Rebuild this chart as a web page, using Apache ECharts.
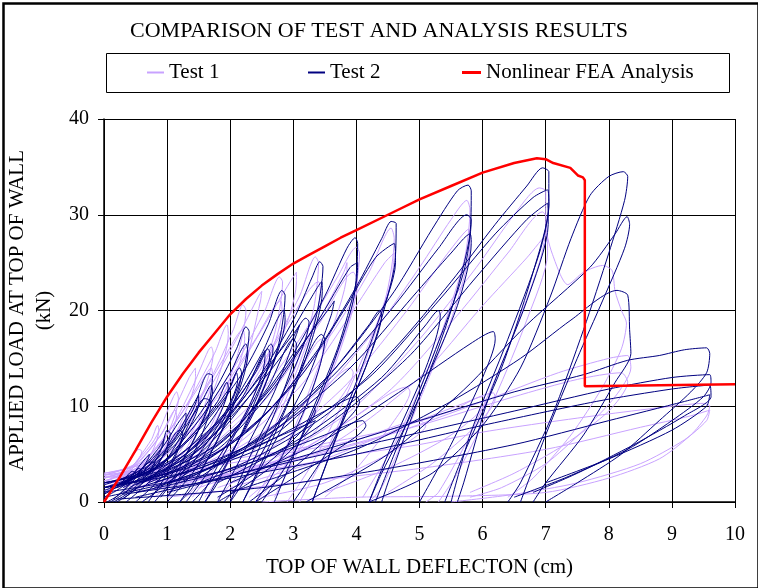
<!DOCTYPE html>
<html>
<head>
<meta charset="utf-8">
<script src="https://cdn.jsdelivr.net/npm/echarts@6/dist/echarts.min.js"></script>
<style>
  html, body {margin: 0; padding: 0; background: #ffffff;}
  #chart {width: 758px; height: 588px;}
</style>
</head>
<body>
<div id="chart"></div>
<script>
// axis ticks
const xTicks = [0, 1, 2, 3, 4, 5, 6, 7, 8, 9, 10];
const yTicks = [0, 10, 20, 30, 40];

// FEA envelope (cm, kN)
const feaCurve = [
    [0, 0], [0.25, 2.6], [0.5, 5.4], [0.75, 8.3], [1.0, 11.0], [1.25, 13.4], [1.5, 15.6], [1.75, 17.6],
    [2.0, 19.6], [2.25, 21.2], [2.5, 22.6], [2.75, 23.8], [3.0, 24.9], [3.25, 25.8], [3.5, 26.7], [3.75, 27.6],
    [4.0, 28.4], [4.5, 30.0], [5.0, 31.6], [5.5, 33.0], [6.0, 34.4], [6.5, 35.4], [6.86, 35.9], [7.0, 35.8],
    [7.12, 35.4], [7.39, 34.9], [7.51, 34.1], [7.59, 33.9], [7.62, 33.6], [7.62, 12.1], [10, 12.3]
];

// Test 1 cycles (cm, kN)
const test1Loops = [
    [[0, 2.5], [0.3, 3.2], [0.55, 5.5], [0.6, 5.3], [0.45, 3.5], [0.2, 2.2], [0, 1.8]],
    [[0, 2.2], [0.35, 3], [0.75, 6.5], [0.85, 8], [0.87, 7.5], [0.7, 4.5], [0.35, 2.5], [0, 1.5]],
    [[0, 2], [0.4, 3.5], [0.8, 6.5], [1.1, 11], [1.15, 11.5], [1.18, 10.8], [1.0, 7], [0.6, 3], [0.2, 1.5], [0, 1.2]],
    [[0, 2.8], [0.5, 4], [0.9, 7], [1.13, 9.6], [1.15, 9], [0.9, 5], [0.5, 2.5], [0.1, 1.5]],
    [[0, 2.6], [0.45, 3.5], [0.95, 7.5], [1.35, 13], [1.45, 14], [1.45, 13], [1.2, 8], [0.8, 3.5], [0.3, 1.5]],
    [[0, 2.2], [0.5, 3.5], [1.0, 7], [1.4, 12], [1.65, 15.8], [1.7, 16.2], [1.73, 15.5], [1.55, 11], [1.2, 6], [0.7, 2.5], [0.3, 1]],
    [[0, 3], [0.6, 4], [1.1, 8], [1.5, 12], [1.7, 14], [1.72, 13], [1.45, 8], [1.0, 3.5], [0.5, 1.2]],
    [[0, 2.8], [0.6, 4.2], [1.2, 9], [1.75, 15.5], [1.95, 18.5], [1.97, 17.5], [1.7, 11], [1.2, 4.5], [0.6, 1.5]],
    [[0, 2.5], [0.6, 3.8], [1.2, 7.8], [1.7, 13], [2.05, 18], [2.2, 20.6], [2.25, 20], [2.1, 15], [1.7, 8], [1.2, 3], [0.8, 0.5]],
    [[0.1, 2], [0.8, 4.5], [1.4, 9.5], [1.9, 15], [2.2, 18], [2.23, 17], [1.95, 11], [1.45, 4.5], [1.0, 0.8]],
    [[0, 3], [0.8, 4.5], [1.5, 10], [2.1, 17], [2.45, 21.5], [2.5, 22], [2.48, 21], [2.2, 13.5], [1.6, 5], [1.1, 1]],
    [[0, 2.8], [0.8, 4], [1.5, 8.5], [2.1, 14.5], [2.55, 20], [2.78, 23.5], [2.83, 23], [2.7, 17.5], [2.3, 10], [1.7, 3.5], [1.3, 0.5]],
    [[0.2, 2.2], [1.0, 5], [1.8, 11], [2.4, 17], [2.8, 21], [2.82, 20], [2.5, 13], [1.9, 5], [1.4, 0.5]],
    [[0.1, 2.5], [1.0, 4.5], [1.8, 10.5], [2.5, 18], [2.95, 23], [3.05, 24], [3.05, 23], [2.7, 15], [2.1, 5.5], [1.6, 0.5]],
    [[0, 2.5], [1.0, 4], [1.9, 9], [2.6, 15.5], [3.1, 21.5], [3.35, 25.6], [3.4, 25], [3.3, 19.5], [2.85, 11], [2.2, 3.5], [1.8, 0.3]],
    [[0.4, 2.2], [1.3, 5], [2.2, 11], [2.9, 18.5], [3.4, 23], [3.43, 22], [3.1, 14.5], [2.5, 5], [2.0, 0.3]],
    [[0.2, 2.5], [1.5, 5], [2.6, 11.5], [3.4, 19], [3.8, 24], [3.85, 25], [3.85, 24], [3.5, 16], [2.9, 6], [2.4, 0.5]],
    [[0.2, 2], [1.3, 4.5], [2.3, 10], [3.1, 17], [3.7, 23.5], [4.0, 26.6], [4.05, 26], [3.9, 19.5], [3.4, 10.5], [2.8, 3], [2.4, 0]],
    [[0.5, 1.8], [1.6, 5], [2.6, 11], [3.4, 18.5], [3.95, 24], [4.02, 23], [3.75, 16], [3.2, 7], [2.7, 0.5]],
    [[0.6, 2], [1.8, 4.5], [2.8, 8.5], [3.5, 12], [3.9, 14], [3.95, 13.5], [3.6, 9.5], [2.9, 4], [2.3, 0.5]],
    [[0.3, 1.5], [1.6, 4.5], [2.7, 10], [3.6, 17.5], [4.2, 24], [4.55, 28.6], [4.6, 27.5], [4.45, 21], [3.9, 12], [3.3, 4], [2.9, 0]],
    [[0.8, 1.5], [2.0, 5.5], [3.1, 12], [3.9, 19.5], [4.45, 25], [4.6, 26], [4.55, 23], [4.1, 14], [3.5, 5], [3.1, 0]],
    [[1.0, 2], [2.2, 7], [3.0, 12.5], [3.45, 17], [3.48, 16.5], [3.15, 9], [2.6, 2], [2.4, 0]],
    [[0.3, 2.5], [1.5, 3.5], [2.8, 5], [4.0, 6.5], [5.0, 8.5], [5.1, 8.0], [4.5, 5], [3.5, 2], [2.5, 0.5]],
    [[0.5, 1.5], [2.0, 4.5], [3.3, 10.5], [4.3, 18], [5.0, 24.5], [5.5, 29.5], [5.75, 31.5], [5.8, 30.5], [5.7, 25], [5.2, 15], [4.6, 6], [4.1, 0.5]],
    [[1.0, 1.2], [2.5, 5], [3.8, 12], [4.8, 20], [5.45, 26], [5.78, 28.5], [5.8, 27], [5.5, 19], [4.9, 9], [4.4, 1.5], [4.2, 0]],
    [[1.5, 1.5], [3.0, 5], [4.0, 9], [4.8, 12], [4.85, 11.5], [4.6, 8.5], [4.0, 3.5], [3.5, 0.5]],
    [[0, 2.8], [1.5, 4], [3.0, 5.5], [4.5, 7.5], [5.5, 9.5], [6.0, 11], [6.05, 10.5], [5.5, 7], [4.5, 3.5], [3.5, 1]],
    [[0.5, 1], [2.5, 4], [3.9, 9.5], [5.0, 17], [5.9, 24.5], [6.5, 30], [6.9, 32.8], [7.0, 32.5], [7.0, 29], [7.1, 26], [7.35, 22.7],
        [7.6, 24], [7.9, 24.7], [8.05, 24.2], [8.1, 22], [8.2, 20], [8.28, 18.7], [8.2, 16], [7.9, 12], [7.4, 7], [6.8, 2.5], [6.4, 0.5]],
    [[1.2, 1.5], [3.0, 5], [4.5, 11.5], [5.6, 19.5], [6.4, 26], [6.95, 30.3], [7.02, 29.5], [6.9, 25], [6.4, 16], [5.8, 7], [5.3, 1], [5.1, 0]],
    [[1.8, 1.5], [3.6, 6], [5.0, 13], [6.0, 20.5], [6.7, 25.5], [7.02, 28], [7.03, 26], [6.7, 19], [6.2, 11], [5.6, 3], [5.3, 0]],
    [[2.0, 1.5], [3.5, 4.5], [4.8, 8], [5.7, 10.3], [6.17, 11.4], [6.2, 10.8], [5.9, 8], [5.2, 4], [4.5, 1]],
    [[0.5, 1.5], [2.5, 3.5], [4.5, 7], [6.0, 10.5], [7.2, 13.5], [8.0, 15], [8.3, 15.3], [8.35, 14], [8.1, 11], [7.6, 7.5], [7.0, 4], [6.3, 1.5], [5.8, 0.5]],
    [[0.8, 2], [3.0, 4.5], [5.0, 8], [6.5, 11], [7.5, 12.8], [8.2, 13.5], [8.3, 12.5], [8.0, 9.5], [7.3, 6], [6.5, 3], [5.8, 1]],
    [[2.5, 0], [4.0, 0.5], [5.5, 0.6], [7.0, 1.0], [8.0, 2.5], [8.8, 4.5], [9.3, 7], [9.55, 9.0], [9.6, 10.0], [9.5, 10.3],
        [9.0, 10.0], [8.0, 9.2], [7.0, 8.3], [6.0, 7.3], [5.0, 6.0], [4.0, 5.0], [3.0, 3.8], [1.5, 2.5], [0, 2]],
    [[1.0, 0.5], [3.0, 2], [5.0, 3.5], [7.0, 5.5], [8.5, 7.8], [9.3, 9], [9.6, 9.6], [9.55, 8.5], [9.2, 6.5], [8.5, 4], [7.5, 2], [6.5, 0.8], [5.5, 0]]
];

// Test 2 cycles (cm, kN)
const test2Loops = [
    [[0, 0.5], [0.2, 1.2], [0.4, 2.2], [0.55, 3.5], [0.6, 3.3], [0.5, 2.0], [0.3, 0.8], [0.1, 0]],
    [[0, 0.8], [0.25, 1.8], [0.45, 3.2], [0.5, 3.0], [0.35, 1.5], [0.15, 0.3]],
    [[0, 1.2], [0.35, 2.2], [0.65, 4.5], [0.72, 5.0], [0.7, 4.5], [0.5, 2.5], [0.25, 0.8], [0.05, 0]],
    [[0.1, 1.5], [0.5, 2.8], [0.85, 5.5], [0.95, 6.5], [0.93, 5.8], [0.7, 3], [0.4, 1], [0.15, 0]],
    [[0, 1], [0.3, 1.8], [0.6, 3], [0.9, 5.5], [1.0, 7.5], [1.05, 7.2], [0.95, 5], [0.7, 2.5], [0.4, 0.8], [0.2, 0]],
    [[0, 1.5], [0.4, 2.2], [0.75, 4.2], [0.8, 4.0], [0.6, 2], [0.3, 0.3]],
    [[0, 1.8], [0.5, 3], [0.9, 5.5], [1.2, 8.5], [1.3, 9.3], [1.3, 8.5], [1.05, 5], [0.7, 2], [0.35, 0]],
    [[0.2, 2.2], [0.7, 3.8], [1.1, 6.5], [1.4, 10], [1.5, 11.2], [1.5, 10.3], [1.25, 6.5], [0.9, 2.5], [0.5, 0]],
    [[0, 2], [0.5, 2.8], [1.0, 5.5], [1.4, 9.5], [1.65, 13.4], [1.72, 13.2], [1.65, 10], [1.3, 5], [0.9, 1.5], [0.6, 0]],
    [[0.2, 1.8], [0.7, 3.2], [1.2, 7], [1.55, 10.5], [1.7, 12.2], [1.72, 11.5], [1.5, 7.5], [1.1, 2.5], [0.8, 0]],
    [[0.3, 1.5], [0.8, 3.5], [1.2, 7.5], [1.25, 7.2], [1.0, 3], [0.7, 0]],
    [[0.1, 1.5], [0.8, 3.5], [1.4, 7], [1.8, 10.5], [1.95, 12.5], [1.97, 12], [1.75, 8], [1.3, 4], [0.9, 0.5]],
    [[0.4, 2.5], [1.0, 4.5], [1.6, 8.5], [2.0, 12], [2.1, 13.5], [2.12, 12.8], [1.85, 8.5], [1.4, 4], [1.0, 0.5]],
    [[0, 1.5], [0.6, 3], [1.2, 6.5], [1.7, 11], [2.1, 16], [2.25, 18.3], [2.3, 17.8], [2.2, 13.5], [1.85, 8], [1.4, 3], [1.0, 0]],
    [[0.3, 2], [0.9, 4], [1.5, 8.5], [2.0, 13.5], [2.25, 16.5], [2.28, 15.5], [2.05, 10], [1.6, 4], [1.2, 0]],
    [[0.5, 2], [1.1, 5], [1.6, 10.8], [1.7, 10.5], [1.45, 5.5], [1.0, 0.5]],
    [[0.2, 1.5], [1.0, 3.5], [1.7, 7.5], [2.2, 11.5], [2.5, 15], [2.55, 15.8], [2.55, 15], [2.3, 10], [1.8, 4.5], [1.3, 0]],
    [[0.3, 2], [1.1, 4.5], [1.9, 9], [2.4, 13.5], [2.65, 16.5], [2.68, 16], [2.4, 11], [1.9, 5], [1.5, 0]],
    [[0, 2], [0.8, 3.5], [1.5, 7.5], [2.2, 13.5], [2.6, 18.5], [2.82, 22.1], [2.87, 21.6], [2.75, 16], [2.35, 9], [1.8, 3], [1.4, 0]],
    [[0.4, 1.5], [1.2, 4.5], [2.0, 10], [2.5, 15.5], [2.85, 20], [2.87, 19], [2.6, 13], [2.1, 6], [1.6, 0]],
    [[0.6, 2], [1.4, 6], [1.9, 10.5], [2.15, 14], [2.18, 13.5], [1.9, 8], [1.4, 1.5], [1.2, 0]],
    [[0.5, 2.5], [1.3, 5], [2.1, 10], [2.7, 15], [3.05, 18], [3.1, 18.5], [3.05, 17.5], [2.7, 11.5], [2.2, 5], [1.8, 0]],
    [[0.6, 2], [1.5, 5.5], [2.3, 11], [2.9, 16], [3.2, 19.2], [3.25, 18.8], [2.95, 13], [2.4, 6], [2.0, 0]],
    [[0, 2], [1.0, 3.5], [1.8, 7.5], [2.5, 13.5], [3.0, 19], [3.3, 23.5], [3.42, 25.1], [3.47, 24.6], [3.35, 19], [2.95, 11], [2.4, 4], [1.9, 0]],
    [[0.5, 1.8], [1.5, 5], [2.3, 11], [2.9, 17], [3.3, 21.5], [3.45, 23], [3.46, 22], [3.2, 15], [2.7, 7], [2.2, 0]],
    [[0.8, 2], [1.6, 6], [2.2, 11], [2.6, 16], [2.63, 15.5], [2.3, 9], [1.8, 2], [1.6, 0]],
    [[0.8, 1.5], [1.5, 3], [2.3, 5.5], [3.0, 7.5], [3.35, 8.5], [3.3, 8], [2.9, 5], [2.3, 2], [1.8, 0]],
    [[0, 0.5], [1.0, 2], [2.0, 4.5], [2.8, 7.5], [3.3, 10], [3.35, 9.5], [3.0, 6.5], [2.4, 3], [1.8, 0.5]],
    [[0.7, 2.5], [1.8, 6], [2.6, 11.5], [3.2, 17], [3.6, 20.5], [3.65, 21], [3.6, 19.5], [3.2, 12.5], [2.6, 5], [2.2, 0]],
    [[0, 1.5], [1.2, 3.5], [2.2, 8.5], [3.0, 15.5], [3.5, 21.5], [3.85, 26.5], [3.98, 27.6], [4.02, 27], [3.95, 21], [3.55, 13], [3.0, 5], [2.5, 0]],
    [[0.6, 2], [1.8, 5.5], [2.7, 12], [3.4, 19], [3.9, 24.5], [4.02, 25], [4.0, 23], [3.7, 16], [3.2, 8], [2.7, 0]],
    [[1.0, 2], [2.0, 7], [2.6, 12], [3.0, 17], [3.05, 16.5], [2.75, 10], [2.2, 2], [2.0, 0]],
    [[0.5, 1], [1.5, 2.5], [2.5, 4.5], [3.5, 7], [4.1, 8.5], [4.15, 8.0], [3.7, 5.5], [3.0, 2.5], [2.4, 0]],
    [[0.3, 1], [1.5, 3.5], [2.5, 6], [3.5, 9.5], [4.0, 11], [4.05, 10.5], [3.6, 7], [2.9, 3], [2.3, 0]],
    [[0, 1.5], [1.5, 4], [2.6, 9.5], [3.4, 16], [4.0, 22.5], [4.4, 27.5], [4.55, 29.3], [4.63, 29.1], [4.6, 24.5], [4.2, 15], [3.6, 6], [3.0, 0]],
    [[0.7, 2], [2.0, 6], [3.1, 13], [3.8, 20], [4.3, 25.5], [4.6, 27], [4.62, 25], [4.3, 18], [3.8, 9], [3.3, 0]],
    [[1.2, 2.5], [2.3, 7.5], [3.0, 12.5], [3.45, 17.5], [3.5, 17], [3.2, 10], [2.6, 2], [2.4, 0]],
    [[0, 1.5], [1.5, 3.5], [2.8, 8], [3.8, 15], [4.6, 22], [5.2, 28.5], [5.6, 32.5], [5.77, 33.1], [5.82, 32.5], [5.8, 28], [5.5, 20], [5.0, 11], [4.4, 3], [4.2, 0]],
    [[0.8, 2], [2.3, 6], [3.6, 13], [4.6, 20.5], [5.3, 26.5], [5.75, 30], [5.82, 29.5], [5.7, 24], [5.2, 15], [4.6, 5], [4.3, 0]],
    [[1.2, 2], [2.6, 7], [3.9, 14], [4.9, 21.5], [5.5, 26], [5.8, 28], [5.82, 27], [5.6, 20.5], [5.0, 11], [4.5, 2], [4.4, 0]],
    [[1.5, 2.5], [2.7, 8], [3.6, 13.5], [4.2, 18.5], [4.37, 20], [4.4, 19.5], [4.2, 15], [3.7, 7], [3.3, 0]],
    [[0, 1], [2.0, 3.5], [3.5, 9], [4.6, 16], [5.5, 23], [6.2, 29], [6.7, 33], [6.95, 34.9], [7.05, 34.5], [7.05, 31], [6.8, 24], [6.3, 14], [5.7, 5], [5.4, 0]],
    [[1.0, 2], [2.8, 6.5], [4.2, 13], [5.3, 21], [6.2, 28], [6.8, 31.8], [7.03, 32.6], [7.05, 31], [6.9, 26], [6.4, 17], [5.8, 7], [5.5, 0]],
    [[1.5, 2], [3.3, 7], [4.8, 15], [5.9, 23.5], [6.7, 29.5], [7.03, 31.2], [7.04, 29], [6.7, 21], [6.1, 11], [5.7, 2], [5.6, 0]],
    [[1.8, 2], [3.2, 7], [4.4, 13], [5.1, 18.5], [5.3, 20], [5.33, 19.5], [5.1, 14], [4.5, 5], [4.2, 0]],
    [[2, 2], [3.5, 6.5], [4.8, 12], [5.8, 16.5], [6.17, 17.8], [6.2, 17], [6.0, 13], [5.5, 6], [5.0, 0]],
    [[4.2, 0], [5.2, 3], [6.0, 8], [6.6, 14], [7.07, 21.4], [7.4, 27.5], [7.7, 32], [8.0, 34], [8.23, 34.5], [8.3, 34], [8.25, 31.5],
        [8.0, 26], [7.6, 18], [7.1, 9], [6.6, 2], [6.4, 0]],
    [[3.2, 0], [4.5, 5], [5.7, 11.7], [6.7, 18.5], [7.7, 24.5], [8.1, 28], [8.29, 29.8], [8.33, 29], [8.25, 26.5], [7.9, 21], [7.5, 15], [7.0, 7], [6.6, 0]],
    [[2.0, 1], [4.0, 5.5], [5.5, 10.5], [6.6, 15], [7.4, 19], [8.13, 22.1], [8.3, 21.6], [8.33, 18], [8.35, 15.5], [8.1, 12.5], [7.6, 7], [7.0, 2], [6.8, 0]],
    [[1.0, 1], [3.0, 4.5], [5.0, 8.5], [6.5, 11.5], [7.6, 13.3], [8.3, 14.8], [8.8, 15.3], [9.2, 15.9], [9.55, 16.1], [9.6, 15.5], [9.55, 13.5],
        [9.3, 11.5], [8.8, 8.5], [8.2, 5], [7.5, 2], [7.0, 0]],
    [[0.5, 0.5], [2.5, 3.5], [4.5, 6.5], [6.5, 9.5], [8.0, 11.8], [9.0, 13], [9.6, 13.3], [9.62, 12.5], [9.5, 11], [9.0, 8.5], [8.3, 5.5], [7.3, 2.5], [6.5, 0.5]],
    [[0.3, 0.8], [2, 2.5], [4, 5], [6, 8], [7.8, 10.5], [9, 11.8], [9.6, 12.2], [9.62, 11], [9.2, 9], [8.4, 6], [7.5, 3], [6.8, 1]],
    [[0.2, 0.3], [2.5, 1.5], [4.5, 3.5], [6.5, 6], [8, 8.5], [9.2, 10.5], [9.6, 11.2], [9.55, 10], [9.0, 7.5], [8.0, 4.5], [7, 2]]
];

const FONT = '"Liberation Serif", "Times New Roman", serif';
const C_TEST1 = '#c8a2ff';
const C_TEST2 = '#000080';
const C_FEA = '#ff0000';

let series = [];
test1Loops.forEach(loop => {
    series.push({
        name: 'Test 1', type: 'line', data: loop, showSymbol: false, smooth: 0.25, silent: true,
        itemStyle: {color: C_TEST1}, lineStyle: {color: C_TEST1, width: 1}
    });
});
test2Loops.forEach(loop => {
    series.push({
        name: 'Test 2', type: 'line', data: loop, showSymbol: false, smooth: 0.25, silent: true,
        itemStyle: {color: C_TEST2}, lineStyle: {color: C_TEST2, width: 1}
    });
});
series.push({
    name: 'Nonlinear FEA Analysis', type: 'line', data: feaCurve, showSymbol: false, smooth: false, silent: true,
    itemStyle: {color: C_FEA}, lineStyle: {color: C_FEA, width: 2.5}
});

const legendBase = {
    orient: 'horizontal', top: 62, padding: 0, itemWidth: 17, itemHeight: 2, itemGap: 0, icon: 'rect',
    textStyle: {fontFamily: FONT, fontSize: 21, color: '#000'}, selectedMode: false
};

let chart = echarts.init(document.getElementById('chart'), null, {renderer: 'canvas'});
chart.setOption({
    animation: false,
    backgroundColor: '#ffffff',
    title: {
        text: 'COMPARISON OF TEST AND ANALYSIS RESULTS', left: 'center', top: 15,
        textStyle: {fontFamily: FONT, fontSize: 22, fontWeight: 'normal', color: '#000'}
    },
    legend: [
        Object.assign({}, legendBase, {data: ['Test 1'], left: 147}),
        Object.assign({}, legendBase, {data: ['Test 2'], left: 308}),
        Object.assign({}, legendBase, {data: ['Nonlinear FEA Analysis'], left: 462, itemWidth: 19, itemHeight: 3})
    ],
    grid: {left: 104, right: 23, top: 119, bottom: 86, containLabel: false, outerBoundsMode: 'none'},
    xAxis: {
        type: 'value', min: xTicks[0], max: xTicks[xTicks.length - 1], interval: 1,
        name: 'TOP OF WALL DEFLECTON (cm)', nameLocation: 'middle', nameGap: 55,
        nameTextStyle: {fontFamily: FONT, fontSize: 21, color: '#000'},
        axisLine: {show: true, lineStyle: {color: '#000', width: 1.5}},
        axisTick: {show: true, inside: false, length: 6, lineStyle: {color: '#000'}},
        axisLabel: {fontFamily: FONT, fontSize: 20, color: '#000', margin: 23},
        splitLine: {show: true, lineStyle: {color: '#000', width: 1}}
    },
    yAxis: {
        type: 'value', min: yTicks[0], max: yTicks[yTicks.length - 1], interval: 10,
        name: 'APPLIED LOAD AT TOP OF WALL\n(kN)', nameLocation: 'middle', nameGap: 41,
        nameTextStyle: {fontFamily: FONT, fontSize: 21, color: '#000', lineHeight: 27},
        axisLine: {show: true, lineStyle: {color: '#000', width: 1.5}},
        axisTick: {show: true, inside: false, length: 6, lineStyle: {color: '#000'}},
        axisLabel: {fontFamily: FONT, fontSize: 20, color: '#000', margin: 15},
        splitLine: {show: true, lineStyle: {color: '#000', width: 1}}
    },
    graphic: [
        {type: 'rect', left: 1, top: 1, z: 100, silent: true,
            shape: {width: 755, height: 585}, style: {fill: 'none', stroke: '#000', lineWidth: 2.5}},
        {type: 'rect', left: 104, top: 51, z: 100, silent: true,
            shape: {width: 623, height: 39}, style: {fill: 'none', stroke: '#000', lineWidth: 1}}
    ],
    series: series
});
</script>
</body>
</html>
